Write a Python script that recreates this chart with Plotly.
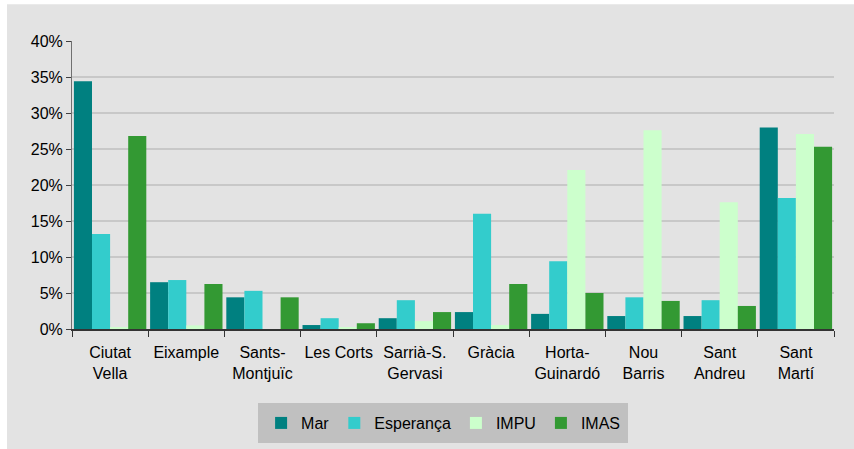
import plotly.graph_objects as go

# districts (x categories)
districts = ["Ciutat<br>Vella", "Eixample", "Sants-<br>Montjuïc", "Les Corts", "Sarrià-S.<br>Gervasi",
             "Gràcia", "Horta-<br>Guinardó", "Nou<br>Barris", "Sant<br>Andreu", "Sant<br>Martí"]

# share per district, in %
mar = [34.4, 6.5, 4.4, 0.55, 1.5, 2.35, 2.1, 1.8, 1.8, 28.0]
esperanca = [13.2, 6.8, 5.3, 1.5, 4.0, 16.0, 9.4, 4.4, 4.0, 18.2]
impu = [0.2, 0.5, 0.0, 0.25, 1.1, 0.55, 22.1, 27.6, 17.6, 27.1]
imas = [26.8, 6.25, 4.4, 0.8, 2.35, 6.25, 5.0, 3.9, 3.2, 25.3]

series = [("Mar", mar, "#008080"),
          ("Esperança", esperanca, "#33CCCC"),
          ("IMPU", impu, "#CCFFCC"),
          ("IMAS", imas, "#339933")]

fig = go.Figure()
for name, vals, col in series:
    fig.add_trace(go.Bar(x=districts, y=vals, name=name, marker_color=col, marker_line_width=0))

# grey panel with a thin white strip on the left and top
fig.add_shape(type="rect", xref="paper", yref="paper", x0=-0.0853, x1=1.05, y0=-0.45, y1=1.128,
              fillcolor="#e3e3e3", line_width=0, layer="below")

fig.update_layout(
    width=854, height=449,
    margin=dict(l=72, r=20, t=41, b=120),
    paper_bgcolor="white",
    plot_bgcolor="rgba(0,0,0,0)",
    font=dict(family="Liberation Sans, Arial, sans-serif", size=16, color="#000000"),
    barmode="group", bargap=0.05, bargroupgap=0,
    legend=dict(orientation="h", x=0.487, xanchor="center", yref="container", y=0.1024, yanchor="top",
                bgcolor="#c0c0c0", bordercolor="#c0c0c0", borderwidth=3,
                font=dict(size=16)),
)
fig.update_yaxes(range=[0, 40], dtick=5, ticksuffix="%", showgrid=True, gridcolor="#c8c8c8", gridwidth=1.5,
                 showline=True, linecolor="#707070", linewidth=1, ticks="outside", ticklen=5,
                 tickcolor="#404040", zeroline=False)
fig.update_xaxes(showline=True, linecolor="#333333", linewidth=1.5, ticks="outside", tickson="boundaries",
                 ticklen=6, tickcolor="#333333", showgrid=False, ticklabelstandoff=8, tickangle=0)

fig.write_html("out.html", config={"displayModeBar": False},
               post_script="document.body.style.margin='0';")
